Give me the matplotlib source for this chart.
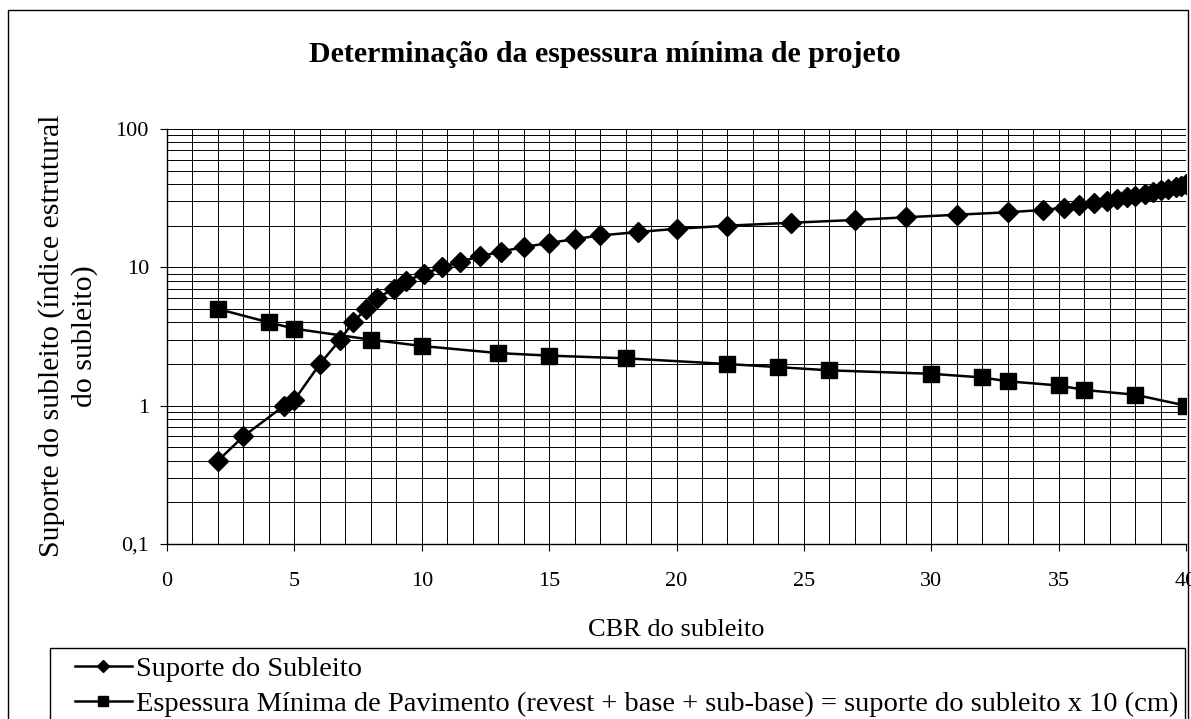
import matplotlib.pyplot as plt
import matplotlib.ticker as mticker
from matplotlib.patches import Rectangle

plt.rcParams['font.family'] = ['Liberation Serif', 'DejaVu Serif']

# Suporte do Subleito (CBR x suporte)
cbr_suporte = [2, 3, 4.6, 5, 6, 6.8, 7.3, 7.8, 8.25, 8.9, 9.4, 10.1, 10.8, 11.5,
               12.3, 13.1, 14, 15, 16, 17, 18.5, 20, 22, 24.5, 27, 29, 31, 33,
               34.4, 35.2, 35.8, 36.4, 36.9, 37.3, 37.7, 38.0, 38.4, 38.7, 39.0,
               39.3, 39.6, 39.8, 40]
suporte = [0.4, 0.6, 1, 1.1, 2, 3, 4, 5, 6, 7, 8, 9, 10, 11,
           12, 13, 14, 15, 16, 17, 18, 19, 20, 21, 22, 23, 24, 25,
           26, 27, 28, 29, 30, 31, 32, 33, 34, 35, 36,
           37, 38, 39, 40]

# Espessura minima de pavimento
cbr_espessura = [2, 4, 5, 8, 10, 13, 15, 18, 22, 24, 26, 30, 32, 33, 35, 36, 38, 40]
espessura = [5, 4, 3.6, 3, 2.7, 2.4, 2.3, 2.2, 2.0, 1.9, 1.8, 1.7, 1.6, 1.5, 1.4, 1.3, 1.2, 1.0]

y_ticks = [0.1, 1, 10, 100]
y_tick_labels = ['0,1', '1', '10', '100']

W, H = 1191, 719
fig = plt.figure(figsize=(W / 100, H / 100), dpi=100)

# moldura externa do grafico
fig.patches.append(Rectangle((8 / W, -0.05), 1180 / W, 1 - 10 / H + 0.05,
                             transform=fig.transFigure, fill=False,
                             edgecolor='black', linewidth=1.0))
# moldura da legenda
fig.patches.append(Rectangle((50 / W, -0.05), 1135 / W, 1 - 648 / H + 0.05,
                             transform=fig.transFigure, fill=False,
                             edgecolor='black', linewidth=1.0))

ax = fig.add_axes([167 / W, 1 - 544 / H, 1019 / W, 415 / H])

l1, = ax.plot(cbr_suporte, suporte, color='black', lw=1.8, marker='D',
              markersize=10.5, markerfacecolor='black', markeredgecolor='black')
l2, = ax.plot(cbr_espessura, espessura, color='black', lw=1.8, marker='s',
              markersize=11, markerfacecolor='black', markeredgecolor='black')

ax.set_yscale('log')
ax.set_ylim(0.1, 100)
ax.set_xlim(0, 40)
ax.set_yticks(y_ticks)
ax.set_yticklabels(y_tick_labels)
ax.yaxis.set_minor_locator(mticker.LogLocator(base=10, subs=range(2, 10)))
ax.yaxis.set_minor_formatter(mticker.NullFormatter())
ax.xaxis.set_major_locator(mticker.MultipleLocator(5))
ax.xaxis.set_minor_locator(mticker.MultipleLocator(1))

ax.grid(True, which='both', color='black', linewidth=0.7)
ax.set_axisbelow(True)
ax.tick_params(axis='both', which='major', direction='out', length=5,
               labelsize=16, color='black')
ax.tick_params(axis='x', which='major', pad=15)
ax.tick_params(axis='y', which='major', pad=8)
ax.tick_params(which='minor', length=0)
for s in ['top', 'right']:
    ax.spines[s].set_visible(False)
for s in ['left', 'bottom']:
    ax.spines[s].set_color('black')
    ax.spines[s].set_linewidth(1.0)

fig.text(605 / W, 1 - 55 / H, 'Determinação da espessura mínima de projeto',
         ha='center', va='center', fontsize=21.5, fontweight='bold')
fig.text(676 / W, 1 - 630 / H, 'CBR do subleito', ha='center', va='center',
         fontsize=19)
fig.text(68 / W, 1 - 336 / H, 'Suporte do subleito (índice estrutural\ndo subleito)',
         ha='center', va='center', rotation=90, fontsize=21.5, linespacing=1.25)

fig.legend([l1, l2], ['Suporte do Subleito',
                      'Espessura Mínima de Pavimento (revest + base + sub-base) = suporte do subleito x 10 (cm)'],
           loc='upper left', bbox_to_anchor=(75 / W, 1 - 656 / H),
           fontsize=20.5, frameon=False, handlelength=2.0, handletextpad=0.15,
           borderaxespad=0, borderpad=0, labelspacing=0.32, markerscale=0.6)

fig.savefig('out.png', dpi=100)
